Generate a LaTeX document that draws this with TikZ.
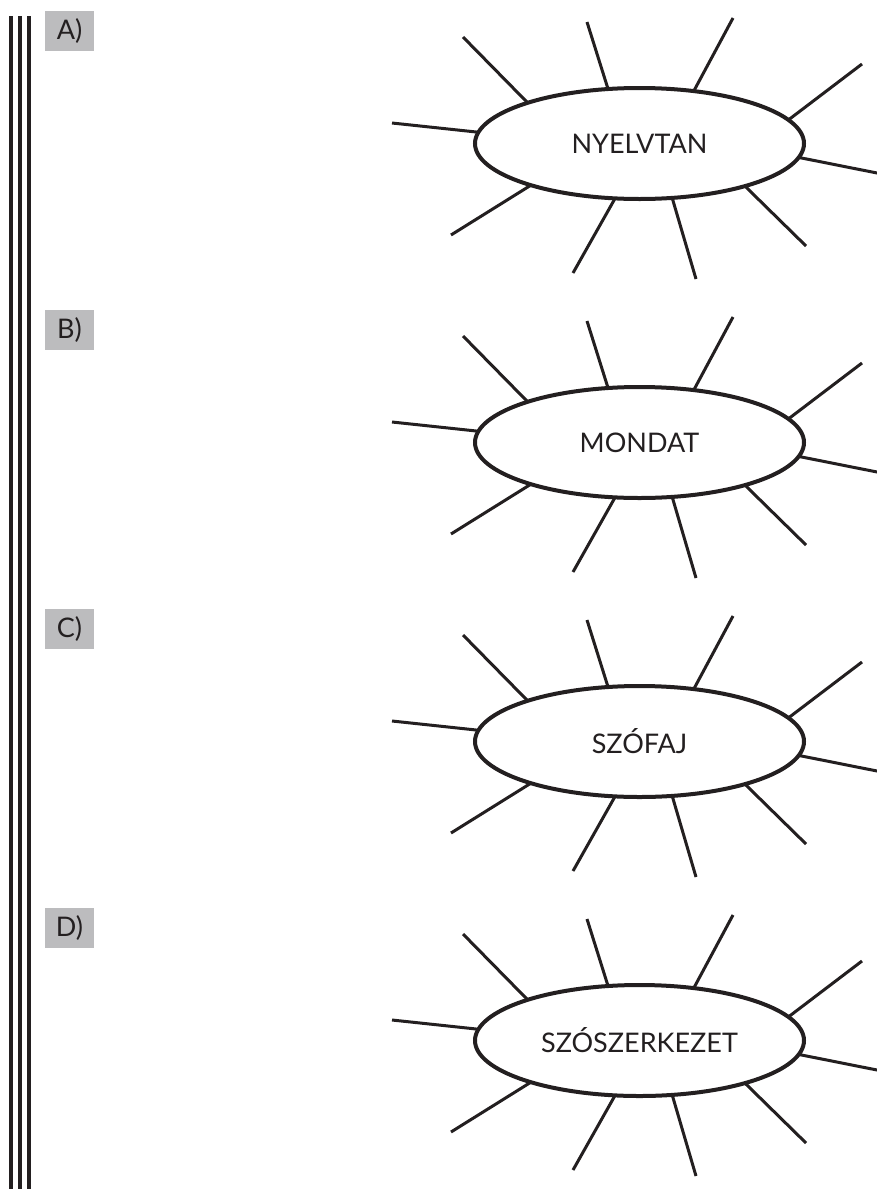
\documentclass[tikz,border=0pt]{standalone}
\usepackage{fontspec}
\setmainfont{Lato}
\usetikzlibrary{shapes.geometric}
\definecolor{labgray}{HTML}{BCBCBE}
\definecolor{ink}{HTML}{231F20}

\begin{document}
\begin{tikzpicture}[x=1pt,y=-1pt]
  \tikzset{ bubble/.style={ellipse,draw=ink,line width=4pt,inner sep=0pt,outer sep=0pt,
      minimum width=329pt,minimum height=111pt,text=ink,font=\fontsize{27}{30}\selectfont},
    tag/.style={fill=labgray,text=ink,minimum width=49pt,minimum height=40pt,inner sep=0pt,
      font=\fontsize{27}{30}\selectfont},
    ray/.style={draw=ink,line width=3pt},
    bar/.style={draw=ink,line width=4pt},
  }
  \useasboundingbox (0,0) rectangle (877,1189);

  % the three bars down the left margin
  \draw[bar] (11,16) -- (11,1189);
  \draw[bar] (20,16) -- (20,1189);
  \draw[bar] (29,16) -- (29,1189);

  \foreach \tg/\word [count=\i from 0] in {A)/NYELVTAN, B)/MONDAT, C)/SZÓFAJ, D)/SZÓSZERKEZET} {
    \node[tag] (t\i) at (69.5, 31+299*\i) {\tg};
    \node[bubble] (e\i) at (639.5, 143.5+299*\i) {\word};

    % the rays round the bubble
    \foreach \a/\dx/\dy [count=\k] in {160.3/-176.5/-106.5, 120.7/-52.5/-121.5, 44.0/93.5/-125.5,
        9.8/222.5/-79.5, -5.1/240/30, -22.3/166.5/102.5, -59.0/56.5/135.5,
        -114.7/-66.5/129.5, 201.1/-188.5/91.5, 176.0/-247.5/-20.5} {
      \coordinate (r\i-\k) at ([shift={(\dx,\dy)}]e\i.center);
      \draw[ray] (e\i.\a) -- (r\i-\k);
    }
  }
\end{tikzpicture}
\end{document}
